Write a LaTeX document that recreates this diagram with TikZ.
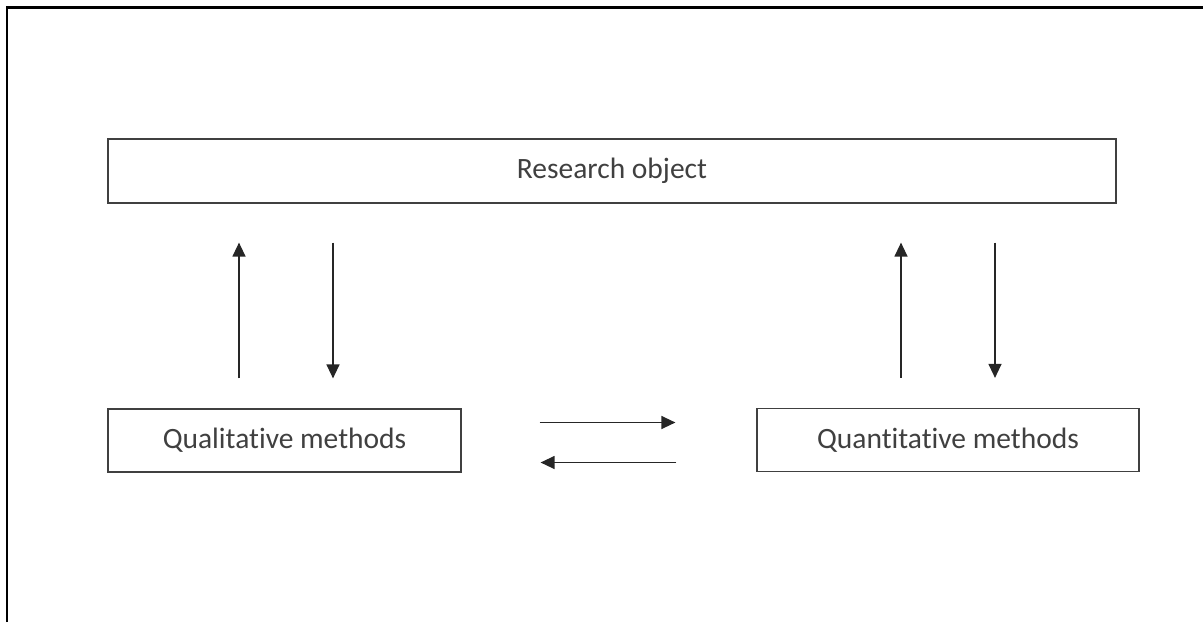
\documentclass[tikz,border=0pt]{standalone}
\usepackage{fontspec}
\setmainfont[Ligatures=NoCommon]{Carlito}
\usetikzlibrary{arrows.meta,positioning,calc}

\begin{document}
\begin{tikzpicture}[
    x=1pt, y=-1pt,
    box/.style={draw=black!75, rectangle, fill=white, line width=1.2pt, align=center, inner sep=0pt, font=\fontsize{29.5}{33}\selectfont, text=black!75},
    link/.style={-{Triangle[length=14pt, width=13pt]}, line width=1.3pt, black!85}
]

    % Canvas and frame (top and left edges only)
    \useasboundingbox (0,0) rectangle (1203,622);
    \draw[line width=2.2pt, black] (7,622) -- (7,7.5) -- (1203,7.5);

    % Stage 1: Research object
    \node[box, minimum width=1008pt, minimum height=64pt] (research) at (612,171) {Research object};

    % Stage 2: The two method boxes
    \node[box, minimum width=353pt, minimum height=63pt] (qual) at (284.5,440.5) {Qualitative methods};
    \node[box, minimum width=382pt, minimum height=63pt] (quant) at (948,440) {Quantitative methods};

    % Connectors: methods <-> research object
    \draw[link, shorten <=30pt, shorten >=39pt] ([xshift=-45.5pt]qual.north) -- ([xshift=-45.5pt]qual.north |- research.south);
    \draw[link, shorten <=39pt, shorten >=30pt] ([xshift=48.5pt]qual.north |- research.south) -- ([xshift=48.5pt]qual.north);
    \draw[link, shorten <=30pt, shorten >=39pt] ([xshift=-47pt]quant.north) -- ([xshift=-47pt]quant.north |- research.south);
    \draw[link, shorten <=39pt, shorten >=30pt] ([xshift=47pt]quant.north |- research.south) -- ([xshift=47pt]quant.north);

    % Connectors: qualitative <-> quantitative
    \draw[link, shorten <=78pt, shorten >=81pt] ([yshift=18pt]qual.east) -- ([yshift=18pt]qual.east -| quant.west);
    \draw[link, shorten <=80pt, shorten >=79pt] ([yshift=-22pt]qual.east -| quant.west) -- ([yshift=-22pt]qual.east);

\end{tikzpicture}
\end{document}
